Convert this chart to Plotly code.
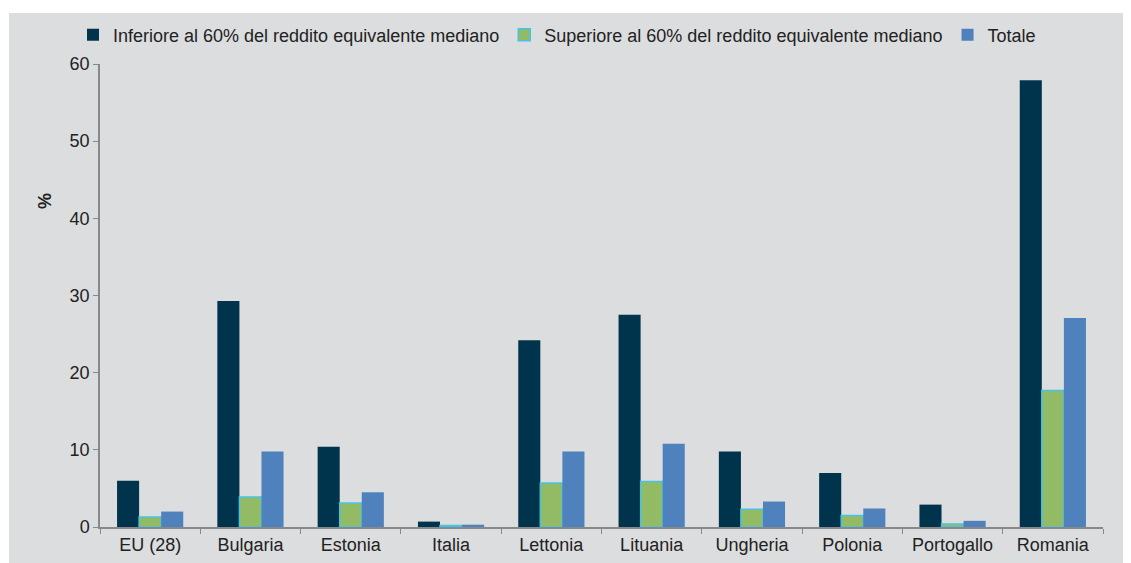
import plotly.graph_objects as go

# categories and values (percent)
countries = ["EU (28)", "Bulgaria", "Estonia", "Italia", "Lettonia",
             "Lituania", "Ungheria", "Polonia", "Portogallo", "Romania"]
below_60 = [6.0, 29.3, 10.4, 0.7, 24.2, 27.5, 9.8, 7.0, 2.9, 57.9]
above_60 = [1.3, 3.9, 3.1, 0.2, 5.7, 5.9, 2.3, 1.5, 0.4, 17.7]
total = [2.0, 9.8, 4.5, 0.3, 9.8, 10.8, 3.3, 2.4, 0.8, 27.1]

series_names = ["Inferiore al 60% del reddito equivalente mediano",
                "Superiore al 60% del reddito equivalente mediano",
                "Totale"]
y_ticks = [0, 10, 20, 30, 40, 50, 60]

# page has an 8px body margin, so the figure is offset by 8px
OFF = 8
W, H = 1131 - OFF, 563 - OFF
L, R, T, B = 100 - OFF, 28, 64 - OFF, 36
pw, ph = W - L - R, H - T - B


def px_x(x):
    # page pixel -> paper x
    return (x - OFF - L) / pw


def px_y(y):
    # page pixel -> paper y
    return (H - B - (y - OFF)) / ph


fig = go.Figure()
fig.add_trace(go.Bar(x=countries, y=below_60, name=series_names[0],
                     marker=dict(color="#00344D", line=dict(width=0))))
fig.add_trace(go.Bar(x=countries, y=above_60, name=series_names[1],
                     marker=dict(color="#93BB66", line=dict(color="#45C3E6", width=1.5))))
fig.add_trace(go.Bar(x=countries, y=total, name=series_names[2],
                     marker=dict(color="#4F81BD", line=dict(width=0))))

grey = "#DCDDDF"
# grey panel behind everything (white strip at top/left like the source)
fig.add_shape(type="rect", xref="paper", yref="paper", layer="below",
              x0=px_x(9), x1=px_x(1140), y0=px_y(570), y1=px_y(13),
              fillcolor=grey, line=dict(width=0))

fig.add_annotation(text="<b>%</b>", xref="paper", yref="paper", showarrow=False,
                   x=px_x(33), y=px_y(191), textangle=-90,
                   font=dict(size=18, color="#222"))

fig.update_layout(
    width=W, height=H,
    margin=dict(l=L, r=R, t=T, b=B, autoexpand=False),
    paper_bgcolor="white", plot_bgcolor=grey,
    font=dict(family="Liberation Sans, Arial, sans-serif", size=18, color="#222"),
    barmode="group", bargap=0.34, bargroupgap=0,
    showlegend=True,
    legend=dict(orientation="h", x=px_x(73), y=px_y(35),
                xanchor="left", yanchor="middle", bgcolor="rgba(0,0,0,0)",
                font=dict(size=18, color="#222"), itemwidth=30,
                traceorder="normal"),
)
fig.update_xaxes(showline=True, linecolor="#888", linewidth=2,
                 ticks="outside", tickson="boundaries", ticklen=5, tickcolor="#888",
                 showgrid=False, tickfont=dict(size=18, color="#222"))
fig.update_yaxes(range=[0, 60], tickvals=y_ticks, showline=True, linecolor="#888",
                 linewidth=1.5, ticks="outside", ticklen=5, tickcolor="#888",
                 showgrid=False, zeroline=False, tickfont=dict(size=18, color="#222"))

fig.write_html("out.html")
